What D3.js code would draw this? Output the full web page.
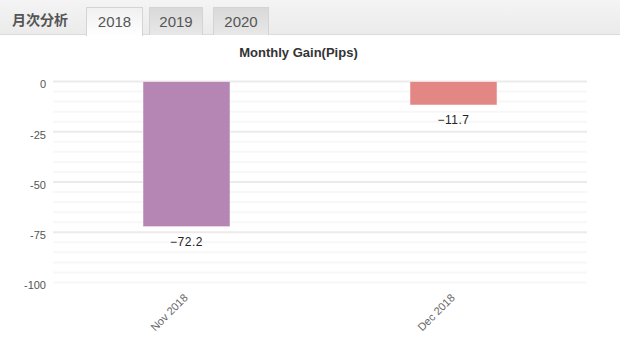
<!DOCTYPE html>
<html>
<head>
<meta charset="utf-8">
<script src="https://cdn.jsdelivr.net/npm/d3@7"></script>
<style>
    body { margin: 0; background: #fff; font-family: "Liberation Sans", Arial, sans-serif; }
    #header {
        position: absolute; left: 0; top: 0; width: 620px; height: 34px;
        background: linear-gradient(#f4f4f4, #ebebeb);
        border-bottom: 1px solid #dcdcdc;
    }
    #header .title {
        position: absolute; left: 12px; top: 10px;
        font-family: "Noto Sans CJK JP", sans-serif; font-weight: bold; font-size: 14px; color: #555;
        line-height: 18px;
    }
    .tab {
        position: absolute; top: 7px; height: 28px; box-sizing: border-box;
        border: 1px solid #d4d4d4; border-bottom: none;
        font-size: 15px; color: #555; text-align: center; line-height: 27px;
        background: linear-gradient(#d9d9d9, #e8e8e8);
    }
    .tab.active { background: linear-gradient(#f0f0f0, #ffffff); height: 29px; }
</style>
</head>
<body>
<div id="header"><div class="title">月次分析</div></div>
<svg id="drawing_region" style="position:absolute;left:0;top:0"></svg>
<script>
const tabs = ['2018', '2019', '2020'];
const months = ['Nov 2018', 'Dec 2018'];
const gains = [-72.2, -11.7];
const colors = ['#b586b4', '#e38785'];
const yTicks = [0, -25, -50, -75, -100];

// header tabs
const tabLeft = [86, 149, 213];
const tabWidth = [57, 54, 56];
d3.select('#header').selectAll('.tab')
    .data(tabs)
    .enter()
    .append('div')
    .attr('class', (d, i) => i == 0 ? 'tab active' : 'tab')
    .style('left', (d, i) => tabLeft[i] + 'px')
    .style('width', (d, i) => tabWidth[i] + 'px')
    .text(d => d);

const config = {
    width: 620,
    height: 351,
    margin: { top: 81.5, right: 33, bottom: 68.5, left: 53 }
};

const svg = d3.select('#drawing_region')
    .attr('width', config.width)
    .attr('height', config.height);

const inner_width = config.width - config.margin.left - config.margin.right;
const inner_height = config.height - config.margin.top - config.margin.bottom;

const chart = svg.append('g')
    .attr('transform', `translate(${config.margin.left}, ${config.margin.top})`);

const xscale = d3.scaleBand()
    .domain(months)
    .range([0, inner_width])
    .paddingInner(0.674)
    .paddingOuter(0.337);

const yscale = d3.scaleLinear()
    .domain([-100, 0])
    .range([inner_height, 0]);

// minor + major grid lines
const grid = yscale.ticks(20);
chart.append('g')
    .selectAll('line')
    .data(grid)
    .enter()
    .append('line')
    .attr('x1', 0)
    .attr('x2', inner_width)
    .attr('y1', d => yscale(d))
    .attr('y2', d => yscale(d))
    .attr('stroke', d => (d % 25 == 0 && d != -100) ? '#ebebeb' : '#f7f7f7')
    .attr('stroke-width', 2);

// title
svg.append('text')
    .attr('x', 298.5)
    .attr('y', 57)
    .attr('text-anchor', 'middle')
    .attr('font-size', '13px')
    .attr('font-weight', 'bold')
    .attr('fill', '#333')
    .text('Monthly Gain(Pips)');

// bars
chart.selectAll('rect')
    .data(gains)
    .enter()
    .append('rect')
    .attr('x', (d, i) => xscale(months[i]))
    .attr('y', d => yscale(Math.max(0, d)))
    .attr('width', xscale.bandwidth())
    .attr('height', d => Math.abs(yscale(d) - yscale(0)))
    .attr('fill', (d, i) => colors[i])
    .attr('stroke', 'rgba(255,255,255,0.5)')
    .attr('stroke-width', 1);

// value labels
chart.selectAll('.value')
    .data(gains)
    .enter()
    .append('text')
    .attr('class', 'value')
    .attr('x', (d, i) => xscale(months[i]) + xscale.bandwidth() / 2)
    .attr('y', d => yscale(d) + 19)
    .attr('text-anchor', 'middle')
    .attr('font-size', '12px')
    .attr('letter-spacing', '0.5px')
    .attr('fill', '#222')
    .text(d => '\u2212' + Math.abs(d).toFixed(1));

// axes
const yaxis = d3.axisLeft(yscale)
    .tickValues(yTicks)
    .tickFormat(d => String(d))
    .tickSize(0)
    .tickPadding(7);

const yaxis_group = chart.append('g').call(yaxis);
yaxis_group.select('.domain').remove();
yaxis_group.selectAll('text')
    .attr('font-family', '"Liberation Sans", Arial, sans-serif')
    .attr('font-size', '11px')
    .attr('fill', '#555')
    .attr('dy', '0.68em')
    .attr('y', -1);

const xaxis = d3.axisBottom(xscale).tickSize(0);
const xaxis_group = chart.append('g')
    .attr('transform', `translate(0, ${inner_height})`)
    .call(xaxis);
xaxis_group.select('.domain').remove();
xaxis_group.selectAll('text')
    .attr('font-family', '"Liberation Sans", Arial, sans-serif')
    .attr('font-size', '11px')
    .attr('fill', '#666')
    .attr('text-anchor', 'end')
    .attr('x', 0)
    .attr('y', 0)
    .attr('dy', 0)
    .attr('transform', 'translate(2, 16) rotate(-45)');
</script>
</body>
</html>
